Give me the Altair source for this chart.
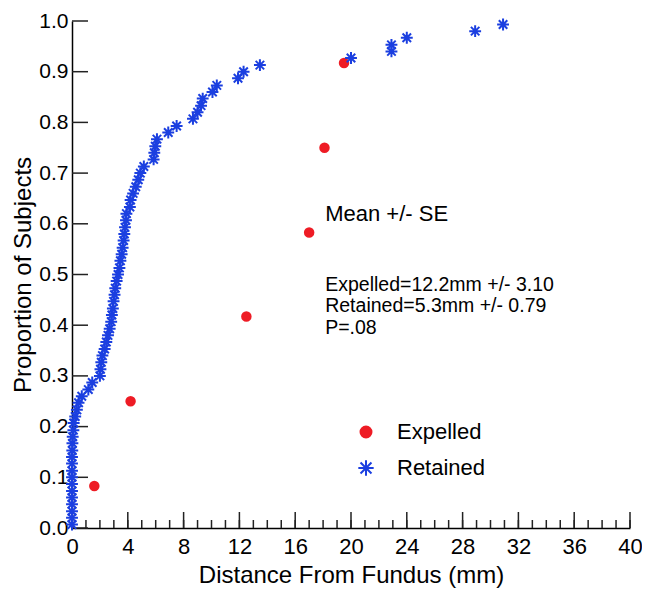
import altair as alt
import pandas as pd

# ---------------- data ----------------
expelled_x = [1.6, 4.2, 12.5, 17.0, 18.1, 19.5]
expelled_y = [0.083, 0.250, 0.417, 0.583, 0.750, 0.917]

retained_x = [
    0.0, 0.0, 0.0, 0.0, 0.0, 0.0, 0.0, 0.0, 0.0, 0.0,
    0.0, 0.02, 0.03, 0.05, 0.10, 0.12, 0.23, 0.35, 0.47, 0.70,
    1.17, 1.45, 2.00, 2.04, 2.10, 2.18, 2.34, 2.46, 2.58, 2.70,
    2.81, 2.86, 2.93, 2.98, 3.05, 3.10, 3.20, 3.30, 3.40, 3.47,
    3.56, 3.63, 3.70, 3.75, 3.80, 3.87, 3.90, 4.15, 4.20, 4.38,
    4.57, 4.75, 4.90, 5.15, 5.85, 5.90, 5.97, 6.09, 6.90, 7.50,
    8.67, 9.00, 9.25, 9.37, 10.07, 10.38, 11.90, 12.30, 13.47, 20.0,
    22.9, 22.9, 24.0, 28.9, 30.9,
]
retained_y = [
    0.007, 0.020, 0.033, 0.047, 0.060, 0.073, 0.087, 0.100, 0.113, 0.127,
    0.140, 0.153, 0.167, 0.180, 0.193, 0.207, 0.220, 0.233, 0.247, 0.260,
    0.273, 0.287, 0.300, 0.313, 0.327, 0.340, 0.353, 0.367, 0.380, 0.393,
    0.407, 0.420, 0.433, 0.447, 0.460, 0.473, 0.487, 0.500, 0.513, 0.527,
    0.540, 0.553, 0.567, 0.580, 0.593, 0.607, 0.620, 0.633, 0.647, 0.660,
    0.673, 0.687, 0.700, 0.713, 0.727, 0.740, 0.753, 0.767, 0.780, 0.793,
    0.807, 0.820, 0.833, 0.847, 0.860, 0.873, 0.887, 0.900, 0.913, 0.927,
    0.940, 0.953, 0.967, 0.980, 0.993,
]

groups = ["Expelled", "Retained"]
x_major_ticks = [0, 4, 8, 12, 16, 20, 24, 28, 32, 36, 40]
x_minor_ticks = list(range(0, 41))
y_ticks = [0.0, 0.1, 0.2, 0.3, 0.4, 0.5, 0.6, 0.7, 0.8, 0.9, 1.0]

annot_text = ["Mean +/- SE", "Expelled=12.2mm +/- 3.10", "Retained=5.3mm +/- 0.79", "P=.08"]
annot_x = [18.15, 18.15, 18.15, 18.15]
annot_y = [0.619, 0.480, 0.438, 0.395]
annot_size = [22, 19.5, 19.5, 19.5]

# ---------------- styling ----------------
W, H = 558, 507
RED = "#ee1c25"
BLUE = "#1b3fe0"
STAR = "M0,-1.4L0,1.4M-1.4,0L1.4,0M-1,-1L1,1M-1,1L1,-1"
FONT = "Liberation Sans"
TICKFONT = "Liberation Sans Narrow, Liberation Sans"

pts = pd.DataFrame({
    "x": expelled_x + retained_x,
    "y": expelled_y + retained_y,
    "group": [groups[0]] * len(expelled_x) + [groups[1]] * len(retained_x),
})

xscale = alt.Scale(domain=[0, 40], nice=False, zero=False)
yscale = alt.Scale(domain=[0, 1], nice=False, zero=False)

xaxis = alt.Axis(values=x_major_ticks, format="d", ticks=False, tickSize=0, grid=False,
                 labelFlush=False, labelOverlap=False,
                 domainColor="black", domainWidth=1.5, labelFont=TICKFONT, labelFontSize=22,
                 labelColor="black", labelPadding=8, title="Distance From Fundus (mm)",
                 titleFont=FONT, titleFontSize=24, titleFontWeight="normal", titleColor="black",
                 titlePadding=6)
yaxis = alt.Axis(values=y_ticks, format=".1f", ticks=False, tickSize=0, grid=False,
                 labelFlush=False, labelOverlap=False,
                 domainColor="black", domainWidth=1.5, labelFont=TICKFONT, labelFontSize=21,
                 labelColor="black", labelPadding=4, title="Proportion of Subjects",
                 titleFont=FONT, titleFontSize=24, titleFontWeight="normal", titleColor="black",
                 titlePadding=3)

legend = alt.Legend(title=None, orient="none", legendX=283, legendY=400, padding=0,
                    symbolSize=120, symbolStrokeWidth=2, labelFont=FONT, labelFontSize=22,
                    labelColor="black", labelOffset=20, rowPadding=13)

X = lambda f: alt.X(f, scale=xscale, axis=xaxis)
Y = lambda f: alt.Y(f, scale=yscale, axis=yaxis)

points = alt.Chart(pts).mark_point(filled=True, size=72, strokeWidth=2, opacity=1).encode(
    x=X("x:Q"),
    y=Y("y:Q"),
    color=alt.Color("group:N", scale=alt.Scale(domain=groups, range=[RED, BLUE]), legend=legend),
    stroke=alt.Stroke("group:N", scale=alt.Scale(domain=groups, range=[RED, BLUE]), legend=legend),
    shape=alt.Shape("group:N", scale=alt.Scale(domain=groups, range=["circle", STAR]), legend=legend),
)

ytick_rules = alt.Chart(pd.DataFrame({"t": y_ticks})).mark_rule(color="#222", strokeWidth=1.5).encode(
    y=Y("t:Q"), x=alt.value(0), x2=alt.value(16))
xmaj_rules = alt.Chart(pd.DataFrame({"t": x_major_ticks})).mark_rule(color="#222", strokeWidth=1.5).encode(
    x=X("t:Q"), y=alt.value(H), y2=alt.value(H - 16))
xmin_rules = alt.Chart(pd.DataFrame({"t": x_minor_ticks})).mark_rule(color="#222", strokeWidth=1.5).encode(
    x=X("t:Q"), y=alt.value(H), y2=alt.value(H - 8))

annot = alt.Chart(pd.DataFrame({"t": annot_text, "x": annot_x, "y": annot_y, "s": annot_size})).mark_text(
    align="left", baseline="middle", font=FONT, color="black").encode(
    x=X("x:Q"), y=Y("y:Q"),
    text="t:N", size=alt.Size("s:Q", scale=None, legend=None))

chart = alt.layer(xmin_rules, xmaj_rules, ytick_rules, points, annot).properties(
    width=W, height=H,
    autosize=alt.AutoSizeParams(type="none"),
    padding={"left": 64, "top": 13, "right": 12, "bottom": 61},
    background="white",
).configure_view(stroke=None)

chart.save("out.html", embed_options={"renderer": "svg", "actions": False})
